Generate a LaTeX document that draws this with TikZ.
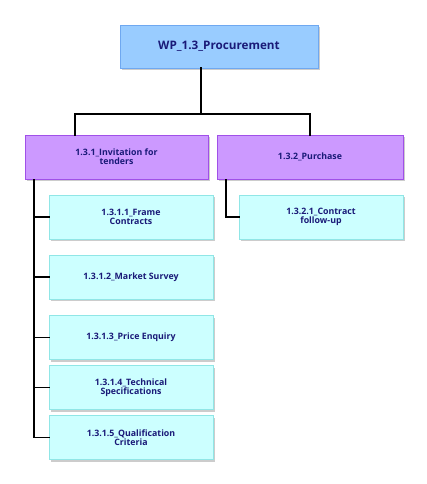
\documentclass[tikz,border=0pt]{standalone}
\usepackage{fontspec}
\setmainfont{Open Sans}
\usepackage{xcolor}
\usetikzlibrary{shadows}

\definecolor{wpblue}{HTML}{99CCFF}
\definecolor{wpblueline}{HTML}{6FA8F0}
\definecolor{pkgpurple}{HTML}{CC99FF}
\definecolor{pkgline}{HTML}{A050E8}
\definecolor{taskcyan}{HTML}{CCFFFF}
\definecolor{taskline}{HTML}{90E6E6}
\definecolor{labelnavy}{HTML}{1A1A78}

\begin{document}
\begin{tikzpicture}[
      x=1pt, y=-1pt,
      box/.style={draw, align=center, inner sep=2pt, font=\bfseries\fontsize{8.8}{9}\selectfont, text=labelnavy,
        line width=0.8pt,
        drop shadow={shadow xshift=1.5pt, shadow yshift=-2pt, opacity=0.4}},
      top/.style={box, fill=wpblue, draw=wpblueline, minimum width=198pt, minimum height=43pt,
        font=\bfseries\fontsize{11.7}{13}\selectfont},
      pkg/.style={box, fill=pkgpurple, draw=pkgline, minimum height=44pt},
      task/.style={box, fill=taskcyan, draw=taskline, minimum width=164pt, minimum height=44pt},
      link/.style={line width=1.8pt, line cap=rect}
    ]
    \useasboundingbox (0,0) rectangle (427,484);

    % Nodes
    \node[top] (wp) at (219,46.5) {WP\_1.3\_Procurement};

    \node[pkg, minimum width=183pt] (inv) at (116.5,157) {1.3.1\_Invitation for\\tenders};
    \node[pkg, minimum width=186pt] (pur) at (310,157) {1.3.2\_Purchase};

    \node[task] (frame) at (131,217) {1.3.1.1\_Frame\\Contracts};
    \node[task] (market) at (131,277) {1.3.1.2\_Market Survey};
    \node[task] (price) at (131,337.5) {1.3.1.3\_Price Enquiry};
    \node[task] (tech) at (131,387.5) {1.3.1.4\_Technical\\Specifications};
    \node[task] (qual) at (131,437.5) {1.3.1.5\_Qualification\\Criteria};

    \node[task] (follow) at (321,217) {1.3.2.1\_Contract\\follow-up};

    % Edges
    \draw[link] ([xshift=-18pt]wp.south) -- ++(0,46) coordinate (bus);
    \draw[link] (bus) -| ([xshift=-41.5pt]inv.north);
    \draw[link] (bus) -| (pur.north);

    \coordinate (spine) at ([xshift=9pt]inv.south west);
    \draw[link] (spine) |- (qual.west);
    \foreach \t in {frame, market, price, tech}
      \draw[link] (spine |- \t.west) -- (\t.west);

    \draw[link] ([xshift=9pt]pur.south west) |- (follow.west);
  \end{tikzpicture}
\end{document}
